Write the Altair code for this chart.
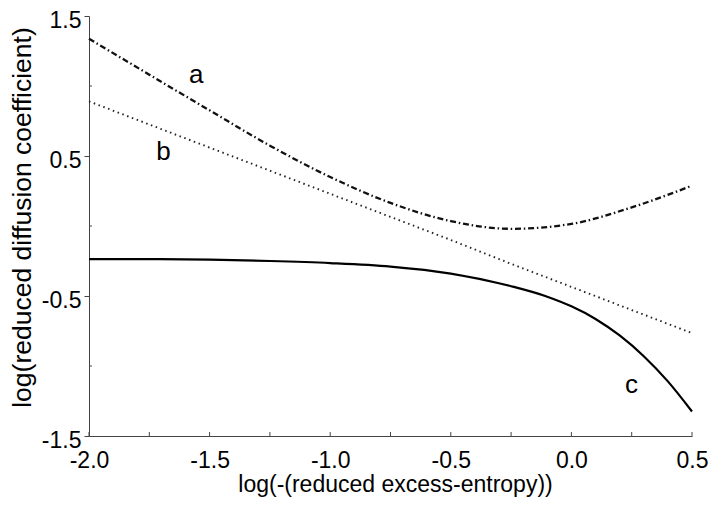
import altair as alt
import pandas as pd

# curve a (dash-dot)
x_a = [-2.0, -1.75, -1.5, -1.25, -1.0, -0.75, -0.5, -0.25, 0.0, 0.25, 0.5]
y_a = [1.338, 1.081, 0.826, 0.574, 0.35, 0.165, 0.035, -0.02, 0.015, 0.133, 0.288]
# curve b (dotted)
x_b = [-2.0, -1.75, -1.5, -1.25, -1.0, -0.75, -0.5, -0.25, 0.0, 0.25, 0.5]
y_b = [0.89, 0.725, 0.56, 0.395, 0.23, 0.065, -0.10, -0.27, -0.435, -0.60, -0.765]
# curve c (solid)
x_c = [-2.0, -1.75, -1.5, -1.25, -1.0, -0.75, -0.5, -0.25, -0.1, 0.0, 0.1, 0.2, 0.3, 0.4, 0.5]
y_c = [-0.236, -0.237, -0.24, -0.25, -0.265, -0.29, -0.34, -0.43, -0.505, -0.574, -0.664, -0.782, -0.93, -1.11, -1.325]

# curve labels
lab_text = ["a", "b", "c"]
lab_x = [-1.555, -1.691, 0.249]
lab_y = [1.079, 0.529, -1.136]

x_major = [-2.0, -1.5, -1.0, -0.5, 0.0, 0.5]
x_ticks = [-2.0, -1.75, -1.5, -1.25, -1.0, -0.75, -0.5, -0.25, 0.0, 0.25, 0.5]
y_major = [-1.5, -0.5, 0.5, 1.5]
y_minor = [-1.0, 0.0, 1.0]

W, H = 603, 420
FONT = "Liberation Sans"
xs = alt.Scale(domain=[-2.0, 0.5], nice=False, zero=False)
ys = alt.Scale(domain=[-1.5, 1.5], nice=False, zero=False)
lab_expr = "(datum.value < 0 ? '-' : '') + format(abs(datum.value), '.1f')"

x_axis = alt.Axis(
    title="log(-(reduced excess-entropy))", values=x_major, labelExpr=lab_expr,
    ticks=False, grid=False, domainColor="#444", domainWidth=1,
    labelFont=FONT, labelFontSize=23, labelColor="#000", labelPadding=13,
    labelFlush=False, labelOverlap=False,
    titleFont=FONT, titleFontSize=23, titleFontWeight="normal", titleColor="#000",
    titleX=306, titleY=55, titleBaseline="alphabetic", titleAlign="center",
)
y_axis = alt.Axis(
    title="log(reduced diffusion coefficient)", values=y_major, labelExpr=lab_expr,
    ticks=True, tickSize=5, tickColor="#444", grid=False, domainColor="#444", domainWidth=1,
    labelFont=FONT, labelFontSize=23, labelColor="#000", labelPadding=3, labelOffset=4,
    labelFlush=False, labelOverlap=False,
    titleFont=FONT, titleFontSize=26.5, titleFontWeight="normal", titleColor="#000",
    titleX=-67, titleY=201, titleAngle=270, titleBaseline="middle", titleAlign="center",
)

X = alt.X("x:Q", scale=xs, axis=x_axis)
Y = alt.Y("y:Q", scale=ys, axis=y_axis)

line_a = alt.Chart(pd.DataFrame({"x": x_a, "y": y_a})).mark_line(
    color="#111", strokeWidth=2.3, strokeDash=[6, 2.8, 1.5, 2.8], interpolate="monotone"
).encode(x=X, y=Y)

line_b = alt.Chart(pd.DataFrame({"x": x_b, "y": y_b})).mark_line(
    color="#222", strokeWidth=1.9, strokeDash=[1.5, 3.6], interpolate="monotone"
).encode(x=X, y=Y)

line_c = alt.Chart(pd.DataFrame({"x": x_c, "y": y_c})).mark_line(
    color="#000", strokeWidth=2.2, interpolate="monotone"
).encode(x=X, y=Y)

xt = alt.Chart(pd.DataFrame({"x": x_ticks})).mark_rule(color="#444", strokeWidth=1).encode(
    x=X, y=alt.value(H), y2=alt.value(H - 4))

yt = alt.Chart(pd.DataFrame({"y": y_minor})).mark_rule(color="#444", strokeWidth=1).encode(
    y=Y, x=alt.value(0), x2=alt.value(3))

labels = alt.Chart(pd.DataFrame({"t": lab_text, "x": lab_x, "y": lab_y})).mark_text(
    font=FONT, fontSize=26, color="#000", align="center", baseline="middle"
).encode(x=X, y=Y, text="t:N")

chart = alt.layer(line_a, line_b, line_c, xt, yt, labels).properties(
    width=W, height=H,
    autosize=alt.AutoSizeParams(type="none"),
    padding={"left": 81, "top": 8, "right": 17, "bottom": 65},
    background="white",
).configure_view(stroke=None)

chart.save("out.html", embed_options={"renderer": "svg", "actions": False})
